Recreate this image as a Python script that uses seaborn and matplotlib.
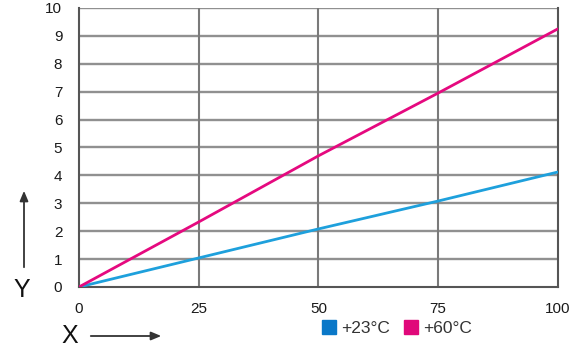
import matplotlib
matplotlib.use("Agg")
import matplotlib.pyplot as plt
import seaborn as sns
import pandas as pd
from matplotlib.patches import Patch

x_vals = [0, 25, 50, 75, 100]
y_23 = [0, 1.04, 2.08, 3.08, 4.12]
y_60 = [0, 2.33, 4.70, 6.95, 9.25]
series_names = ["+23\u00b0C", "+60\u00b0C"]
colors = ["#1ea0dc", "#e5097f"]
legend_colors = ["#0a78c8", "#e0087a"]
x_ticks = [0, 25, 50, 75, 100]
y_ticks = list(range(0, 11))

df = pd.concat([
    pd.DataFrame({"x": x_vals, "y": y_23, "s": series_names[0]}),
    pd.DataFrame({"x": x_vals, "y": y_60, "s": series_names[1]}),
])

sns.set_theme(style="white")
plt.rcParams['font.family'] = ['Liberation Sans', 'DejaVu Sans']

fig = plt.figure(figsize=(5.7, 3.47), dpi=100)
ax = fig.add_axes([0.1386, 0.173, 0.840, 0.804])

sns.lineplot(data=df, x="x", y="y", hue="s", palette=colors, ax=ax,
             linewidth=2.0, legend=False, zorder=3)

ax.set_xlim(0, 100)
ax.set_ylim(0, 10)
ax.set_xticks(x_ticks)
ax.set_yticks(y_ticks)
ax.set_xticklabels([str(t) for t in x_ticks], fontsize=11, color="#1a1a1a")
ax.set_yticklabels([str(t) for t in y_ticks], fontsize=11, color="#1a1a1a")
ax.tick_params(axis="y", direction="out", length=9, width=1.5, color="#777777", pad=3)
ax.tick_params(axis="x", direction="out", length=6, width=1.5, color="#777777", pad=5)
ax.set_xlabel("")
ax.set_ylabel("")

for t in range(1, 11):
    ax.axhline(t, color="#909090", linewidth=1.7, zorder=1)
for t in [25, 50, 75]:
    ax.axvline(t, color="#7a7a7a", linewidth=1.5, zorder=1)

ax.spines["top"].set_visible(False)
for side in ["left", "bottom", "right"]:
    ax.spines[side].set_color("#555555")
    ax.spines[side].set_linewidth(1.5)

# axis labels with arrows
fig.text(22 / 570, 1 - 290 / 347, "Y", fontsize=18, ha="center", va="center", color="#111111")
fig.text(70 / 570, 1 - 336 / 347, "X", fontsize=18, ha="center", va="center", color="#111111")
fig.add_artist(matplotlib.patches.FancyArrowPatch(
    (24 / 570, 1 - 270 / 347), (24 / 570, 1 - 188 / 347), transform=fig.transFigure,
    arrowstyle="-|>,head_length=6,head_width=2.5", color="#333333", linewidth=1.3))
fig.add_artist(matplotlib.patches.FancyArrowPatch(
    (88 / 570, 1 - 336 / 347), (164 / 570, 1 - 336 / 347), transform=fig.transFigure,
    arrowstyle="-|>,head_length=6,head_width=2.5", color="#333333", linewidth=1.3))

handles = [Patch(facecolor=c, edgecolor=c) for c in legend_colors]
fig.legend(handles, series_names, loc="center left", bbox_to_anchor=(313 / 570, 1 - 328 / 347),
           ncol=2, frameon=False, fontsize=12.5, handlelength=0.85, handleheight=0.85,
           handletextpad=0.25, columnspacing=0.8, borderpad=0, labelcolor="#333333")

fig.savefig("out.png", dpi=100)
